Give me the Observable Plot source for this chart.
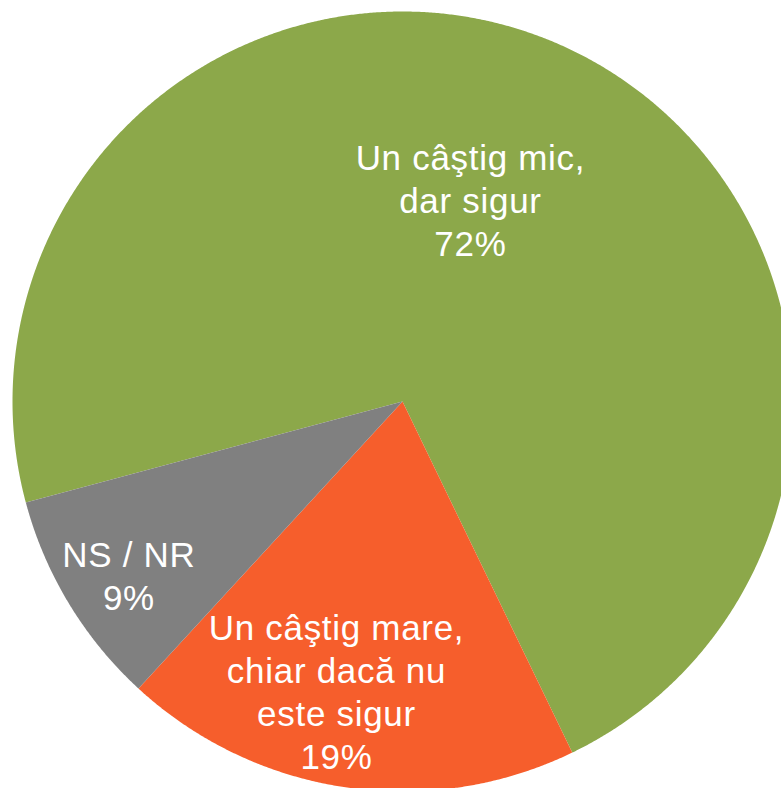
<!DOCTYPE html>
<html>
<head>
<meta charset="utf-8">
<script src="https://cdn.jsdelivr.net/npm/d3@7"></script>
<script src="https://cdn.jsdelivr.net/npm/@observablehq/plot@0.6"></script>
<style>
  html, body { margin: 0; padding: 0; background: #fff; overflow: hidden; }
  #chart svg text { letter-spacing: 0.7px; }
</style>
</head>
<body>
<div id="chart"></div>
<script>
// ---- data ----
const categories = ["Un câştig mic,\ndar sigur", "Un câştig mare,\nchiar dacă nu\neste sigur", "NS / NR"];
const values = [72, 19, 9];
const valueLabels = ["72%", "19%", "9%"];

// ---- style / layout ----
const colors = ["#8CA84A", "#F65E2C", "#808080"];
const startAngleDeg = 255;
// label anchors: angle (deg, clockwise from top) and radius fraction
const labelAngles = [18.6, 192.85, 237.7];
const labelRadii = [0.546, 0.761, 0.830];

const rows = categories.map((c, i) => ({key: c, value: values[i], label: valueLabels[i]}));
const start = startAngleDeg * Math.PI / 180;
const arcs = d3.pie().sort(null).value(d => d.value).startAngle(start).endAngle(start + 2 * Math.PI)(rows);

const pts = [];
for (const a of arcs) {
  const key = a.data.key;
  pts.push({key, x: 0, y: 0});
  const span = a.endAngle - a.startAngle;
  const n = Math.max(2, Math.ceil(span / (0.25 * Math.PI / 180)));
  for (let k = 0; k <= n; k++) {
    const t = a.startAngle + span * k / n;
    pts.push({key, x: Math.sin(t), y: Math.cos(t)});
  }
}

const labels = rows.map((d, i) => {
  const t = labelAngles[i] * Math.PI / 180;
  return {text: d.key + "\n" + d.label, x: labelRadii[i] * Math.sin(t), y: labelRadii[i] * Math.cos(t)};
});

const chart = Plot.plot({
  width: 781,
  height: 788,
  x: {domain: [-1, 1], range: [12, 792], axis: null},
  y: {domain: [-1, 1], range: [791, 11], axis: null},
  color: {domain: categories, range: colors},
  marks: [
    Plot.line(pts, {x: "x", y: "y", z: "key", fill: "key", stroke: "none", curve: "linear-closed"}),
    Plot.text(labels, {
      x: "x", y: "y", text: "text",
      fill: "white", fontSize: 35, lineHeight: 1.229,
      fontFamily: "'Liberation Sans', Arial, sans-serif"
    })
  ]
});
document.getElementById("chart").appendChild(chart);
</script>
</body>
</html>
